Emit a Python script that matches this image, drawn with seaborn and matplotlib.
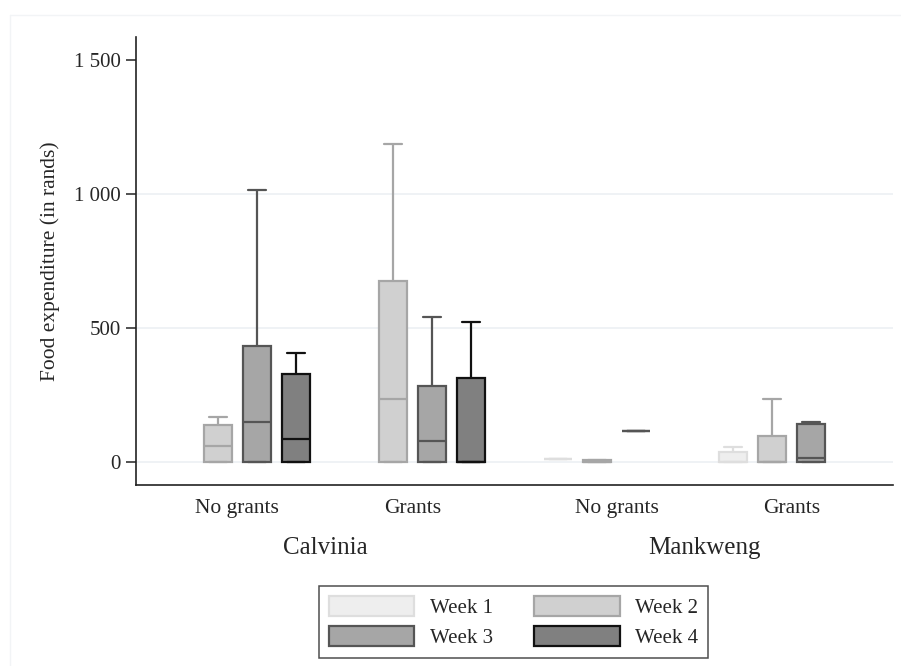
import matplotlib
matplotlib.use("Agg")
import matplotlib.pyplot as plt
from matplotlib.patches import Patch
from matplotlib.ticker import FuncFormatter
from matplotlib.lines import Line2D
import numpy as np
import pandas as pd
import seaborn as sns

# ---- data: five-number summaries (min, Q1, median, Q3, max) in rands ----
sites = ["Calvinia", "Mankweng"]
grant_groups = ["No grants", "Grants"]
weeks = ["Week 1", "Week 2", "Week 3", "Week 4"]

calvinia_no_grants = {
    "Week 2": [0, 0, 62, 139, 169],
    "Week 3": [0, 0, 149, 435, 1014],
    "Week 4": [0, 0, 87, 329, 406],
}
calvinia_grants = {
    "Week 2": [0, 0, 237, 676, 1186],
    "Week 3": [0, 0, 78, 285, 541],
    "Week 4": [0, 0, 0, 314, 522],
}
mankweng_no_grants = {
    "Week 1": [11, 11, 11, 11, 11],
    "Week 2": [0, 0, 0, 9, 9],
    "Week 3": [116, 116, 116, 116, 116],
}
mankweng_grants = {
    "Week 1": [0, 0, 0, 38, 58],
    "Week 2": [0, 0, 0, 97, 236],
    "Week 3": [0, 0, 15, 142, 149],
}

summaries = {
    ("Calvinia", "No grants"): calvinia_no_grants,
    ("Calvinia", "Grants"): calvinia_grants,
    ("Mankweng", "No grants"): mankweng_no_grants,
    ("Mankweng", "Grants"): mankweng_grants,
}

week_fill = ["#eeeeee", "#d0d0d0", "#a6a6a6", "#808080"]
week_edge = ["#dedede", "#a6a6a6", "#555555", "#111111"]

# ---- layout of box slots along x ----
GROUP_GAP = 1.49   # step between the last slot of a grant group and the next
SITE_GAP = 2.23    # step between the last slot of a site and the next

rows = []
group_centers = {}
site_centers = {}
all_slots = []
x = 0.0
for site in sites:
    site_slots = []
    for grp in grant_groups:
        slots = []
        for wk in weeks:
            slots.append(x)
            for v in summaries[(site, grp)].get(wk, []):
                rows.append({"pos": x, "week": wk, "value": v})
            x += 1.0
        group_centers[(site, grp)] = np.mean(slots)
        site_slots.extend(slots)
        x += GROUP_GAP - 1.0
    site_centers[site] = np.mean(site_slots)
    all_slots.extend(site_slots)
    x += SITE_GAP - GROUP_GAP

df = pd.DataFrame(rows)

# ---- figure ----
sns.set_theme(style="white")
plt.rcParams["font.family"] = ["Liberation Serif", "DejaVu Serif"]

fig = plt.figure(figsize=(9.01, 6.66), dpi=100)
ax = fig.add_axes([136 / 901, 1 - 485 / 666, (893 - 136) / 901, (485 - 37) / 666])

sns.boxplot(
    data=df, x="pos", y="value", hue="week", hue_order=weeks,
    palette=week_fill, saturation=1, native_scale=True, dodge=False,
    width=0.7, whis=(0, 100), linewidth=1.6, legend=False, ax=ax,
)

# give every week its own outline colour
present = [w for w in weeks if w in set(df["week"])]
for cont, wk in zip(ax.containers, present):
    i = weeks.index(wk)
    for b in cont.boxes:
        b.set_edgecolor(week_edge[i])
        b.set_facecolor(week_fill[i])
        b.set_zorder(3)
    for ln in list(cont.whiskers) + list(cont.caps) + list(cont.medians):
        ln.set_color(week_edge[i])
        ln.set_linewidth(1.6)
        ln.set_zorder(3)
    for cap in cont.caps:
        c = np.mean(cap.get_xdata())
        cap.set_xdata([c - 0.24, c + 0.24])

ax.set_xlim(min(all_slots) - 1.1, max(all_slots) + 1.1)
ax.set_ylim(-85, 1586)

# axes styling
ax.set_xticks([])
ax.set_xlabel("")
ax.set_yticks([0, 500, 1000, 1500])
ax.yaxis.set_major_formatter(FuncFormatter(lambda v, p: f"{int(v):,}".replace(",", " ")))
ax.tick_params(axis="y", length=7, width=1.1, color="#222222", labelsize=15, pad=4, left=True)
ax.set_ylabel("Food expenditure (in rands)", fontsize=15.5, labelpad=10)
for side in ["top", "right"]:
    ax.spines[side].set_visible(False)
for side in ["left", "bottom"]:
    ax.spines[side].set_color("#222222")
    ax.spines[side].set_linewidth(1.2)
for gy in [0, 500, 1000]:
    ax.axhline(gy, color="#eef1f4", linewidth=1.3, zorder=0.5)

# group and site labels beneath the axis
tr = ax.get_xaxis_transform()
for (site, grp), cx in group_centers.items():
    ax.text(cx, -0.052, grp, transform=tr, ha="center", va="center", fontsize=15.5)
for site, cx in site_centers.items():
    ax.text(cx, -0.14, site, transform=tr, ha="center", va="center", fontsize=18)

# legend, filled row by row (Week 1 | Week 2 / Week 3 | Week 4)
handles = [Patch(facecolor=week_fill[i], edgecolor=week_edge[i], linewidth=1.6, label=w)
           for i, w in enumerate(weeks)]
order = [0, 2, 1, 3]
leg = fig.legend(
    handles=[handles[i] for i in order], ncol=2, loc="center",
    bbox_to_anchor=(513.5 / 901, 1 - 622 / 666),
    fontsize=15, frameon=True, fancybox=False, edgecolor="#222222",
    handlelength=4.1, handleheight=1.1, handletextpad=0.75, columnspacing=2.0,
    labelspacing=0.42, borderpad=0.45,
)
leg.get_frame().set_linewidth(1.1)

# faint outer border of the graph region
fig.add_artist(Line2D([10 / 901, 10 / 901], [0, 1 - 15 / 666], transform=fig.transFigure,
                      color="#f2f4f6", linewidth=1))
fig.add_artist(Line2D([10 / 901, 1], [1 - 15 / 666, 1 - 15 / 666], transform=fig.transFigure,
                      color="#f2f4f6", linewidth=1))

fig.savefig("out.png", dpi=100)
